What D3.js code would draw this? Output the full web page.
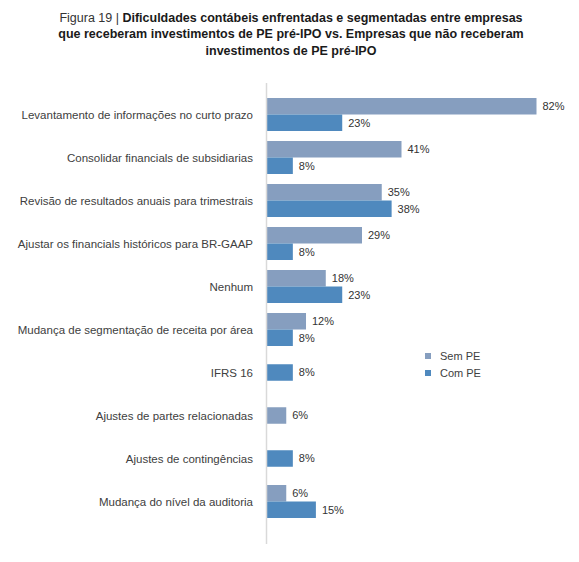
<!DOCTYPE html>
<html>
<head>
<meta charset="utf-8">
<script src="https://cdn.jsdelivr.net/npm/d3@7/dist/d3.min.js"></script>
<style>
  html, body { margin: 0; padding: 0; background: #fff; }
  svg { display: block; font-family: "Liberation Sans", Arial, sans-serif; }
</style>
</head>
<body>
<svg id="chart" width="579" height="562"></svg>
<script>
const categories = [
  "Levantamento de informações no curto prazo",
  "Consolidar financials de subsidiarias",
  "Revisão de resultados anuais para trimestrais",
  "Ajustar os financials históricos para BR-GAAP",
  "Nenhum",
  "Mudança de segmentação de receita por área",
  "IFRS 16",
  "Ajustes de partes relacionadas",
  "Ajustes de contingências",
  "Mudança do nível da auditoria"
];
const semPE = [82, 41, 35, 29, 18, 12, null, 6, null, 6];
const comPE = [23, 8, 38, 8, 23, 8, 8, null, 8, 15];
const seriesNames = ["Sem PE", "Com PE"];
const seriesColors = ["#869ebf", "#4f89be"];
const titleLines = [
  [{t: "Figura 19 | ", b: false}, {t: "Dificuldades contábeis enfrentadas e segmentadas entre empresas", b: true}],
  [{t: "que receberam investimentos de PE pré-IPO vs. Empresas que não receberam", b: true}],
  [{t: "investimentos de PE pré-IPO", b: true}]
];

const svg = d3.select("#chart");

// Title
const title = svg.append("text").attr("text-anchor", "middle").attr("font-size", 12.5).attr("fill", "#1a1a1a");
titleLines.forEach((line, i) => {
  const tl = title.append("tspan").attr("x", 291).attr("y", 22 + i * 16.3);
  line.forEach(seg => {
    tl.append("tspan").text(seg.t).attr("font-weight", seg.b ? "bold" : "normal")
      .attr("fill", seg.b ? "#1a1a1a" : "#333");
  });
});

const x0 = 266.5;
const x = d3.scaleLinear().domain([0, 82]).range([x0, x0 + 270]);
const y = d3.scaleBand().domain(categories).range([93, 523]).paddingInner(10/43).paddingOuter(5/43);
const bh = y.bandwidth() / 2;

const rows = categories.map((c, i) => ({c, sem: semPE[i], com: comPE[i]}));

const g = svg.append("g");
rows.forEach(r => {
  const top = y(r.c);
  const both = r.sem != null && r.com != null;
  const items = [];
  if (r.sem != null) items.push({v: r.sem, s: 0, yy: both ? top : top + bh / 2});
  if (r.com != null) items.push({v: r.com, s: 1, yy: both ? top + bh : top + bh / 2});
  items.forEach(it => {
    g.append("rect")
      .attr("x", x(0)).attr("y", it.yy)
      .attr("width", x(it.v) - x(0)).attr("height", bh)
      .attr("fill", seriesColors[it.s]);
    g.append("text")
      .attr("x", x(it.v) + 6).attr("y", it.yy + bh / 2)
      .attr("dy", "0.35em").attr("font-size", 11).attr("fill", "#333")
      .text(it.v + "%");
  });
  g.append("text")
    .attr("x", 253).attr("y", top + y.bandwidth() / 2)
    .attr("dy", "0.35em").attr("text-anchor", "end")
    .attr("font-size", 11.5).attr("fill", "#404040")
    .text(r.c);
});

// Axis line
svg.append("line").attr("x1", x0).attr("x2", x0).attr("y1", 83).attr("y2", 544)
  .attr("stroke", "#d9d9d9").attr("stroke-width", 1.5);

// Legend
const leg = svg.append("g");
seriesNames.forEach((n, i) => {
  leg.append("rect").attr("x", 425).attr("y", 353 + i * 17).attr("width", 6).attr("height", 6)
    .attr("fill", seriesColors[i]);
  leg.append("text").attr("x", 440).attr("y", 356 + i * 17).attr("dy", "0.35em")
    .attr("font-size", 11).attr("fill", "#404040").text(n);
});
</script>
</body>
</html>
